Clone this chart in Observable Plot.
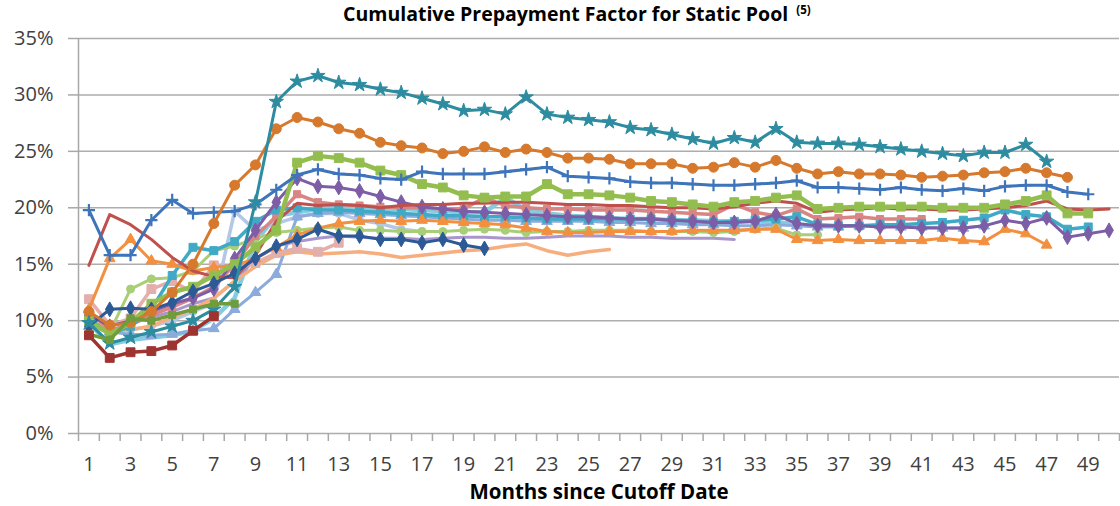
<!DOCTYPE html>
<html>
<head>
<meta charset="utf-8">
<script src="https://cdn.jsdelivr.net/npm/d3@7"></script>
<script src="https://cdn.jsdelivr.net/npm/@observablehq/plot@0.6"></script>
<style>
  html, body { margin: 0; padding: 0; background: #fff; }
  #wrap { position: relative; width: 1120px; height: 506px; overflow: hidden; font-family: "Open Sans", Lato, sans-serif; }
  #title { position: absolute; left: 343px; top: 4px; font-weight: bold; font-size: 19.5px; line-height: 1; color: #000; white-space: nowrap; }
  #title sup { font-size: 11.5px; vertical-align: 7px; margin-left: 3px; font-weight: bold; }
  #xtitle { position: absolute; left: 0; width: 1198px; top: 481px; text-align: center; font-weight: bold; font-size: 20.5px; line-height: 1; color: #000; }
  #chart { position: absolute; left: 0; top: 0; }
</style>
</head>
<body>
<div id="wrap">
  <div id="chart"></div>
  <div id="title">Cumulative Prepayment Factor for Static Pool <sup>(5)</sup></div>
  <div id="xtitle">Months since Cutoff Date</div>
</div>
<script>
// ---- data (percent), each pool starts at month 1 ----
const yTicks = [0, 5, 10, 15, 20, 25, 30, 35];
const xLabelTicks = [1,3,5,7,9,11,13,15,17,19,21,23,25,27,29,31,33,35,37,39,41,43,45,47,49];

const teal = [9.8, 8.0, 8.5, 9.0, 9.5, 10.0, 11.0, 13.0, 20.5, 29.4,
  31.2, 31.7, 31.1, 30.9, 30.5, 30.2, 29.7, 29.2, 28.6, 28.7,
  28.3, 29.8, 28.3, 28.0, 27.8, 27.6, 27.1, 26.9, 26.5, 26.1,
  25.7, 26.2, 25.8, 27.0, 25.8, 25.7, 25.7, 25.6, 25.4, 25.2,
  25.0, 24.8, 24.6, 24.9, 24.9, 25.6, 24.1];
const darkOrange = [10.8, 9.6, 9.8, 10.8, 12.5, 15.0, 18.6, 22.0, 23.8, 27.0,
  28.0, 27.6, 27.0, 26.6, 25.8, 25.5, 25.3, 24.8, 25.0, 25.4,
  24.9, 25.2, 24.9, 24.4, 24.4, 24.3, 23.9, 23.9, 23.9, 23.5,
  23.6, 24.0, 23.6, 24.2, 23.5, 23.0, 23.2, 23.0, 23.0, 22.9,
  22.7, 22.8, 22.9, 23.1, 23.2, 23.5, 23.1, 22.7];
const blue = [19.8, 15.8, 15.8, 18.9, 20.7, 19.5, 19.6, 19.7, 20.3, 21.6,
  22.9, 23.4, 23.0, 22.9, 22.6, 22.5, 23.2, 23.0, 23.0, 23.0,
  23.2, 23.4, 23.6, 22.8, 22.7, 22.6, 22.3, 22.2, 22.2, 22.1,
  22.0, 22.0, 22.1, 22.2, 22.4, 21.8, 21.8, 21.7, 21.6, 21.8,
  21.6, 21.5, 21.7, 21.5, 21.9, 22.0, 22.0, 21.4, 21.2];
const green = [10.0, 8.8, 9.8, 11.5, 12.5, 13.0, 14.0, 15.0, 16.5, 18.0,
  24.0, 24.6, 24.4, 24.0, 23.3, 22.9, 22.1, 21.8, 21.1, 20.9,
  21.0, 21.0, 22.1, 21.2, 21.2, 21.1, 20.9, 20.6, 20.5, 20.3,
  20.1, 20.5, 20.6, 20.9, 21.1, 19.9, 20.0, 20.1, 20.1, 20.1,
  20.1, 20.0, 20.0, 20.0, 20.3, 20.6, 21.1, 19.5, 19.5];
const red = [14.9, 19.4, 18.5, 17.2, 15.6, 14.4, 13.9, 13.8, 15.8, 18.8,
  20.4, 20.2, 20.3, 20.2, 20.0, 20.2, 20.3, 20.3, 20.4, 20.4,
  20.5, 20.5, 20.4, 20.3, 20.3, 20.2, 20.2, 20.1, 20.0, 20.0,
  19.9, 20.1, 20.4, 20.6, 20.4, 19.6, 19.8, 19.9, 20.0, 19.9,
  19.9, 19.8, 19.8, 19.9, 20.0, 20.2, 20.6, 19.9, 19.8, 19.9];
const purple = [10.5, 9.5, 10.0, 10.8, 11.5, 12.0, 12.8, 15.5, 18.0, 20.5,
  22.6, 21.9, 21.8, 21.5, 21.0, 20.5, 20.1, 19.9, 19.7, 19.6,
  19.5, 19.4, 19.3, 19.2, 19.2, 19.1, 19.0, 19.0, 18.9, 18.8,
  18.7, 18.7, 18.8, 19.4, 18.6, 18.4, 18.4, 18.4, 18.3, 18.3,
  18.2, 18.2, 18.2, 18.4, 18.9, 18.6, 19.1, 17.4, 17.7, 18.0];
const aqua = [10.2, 8.8, 9.5, 11.0, 14.0, 16.5, 16.2, 17.0, 18.8, 19.8,
  20.0, 19.8, 19.8, 19.7, 19.6, 19.5, 19.4, 19.3, 19.3, 19.2,
  19.2, 19.1, 19.0, 19.0, 19.0, 19.0, 19.0, 19.0, 18.9, 18.8,
  18.7, 18.8, 18.9, 19.0, 19.2, 18.5, 18.4, 18.4, 18.5, 18.5,
  18.6, 18.7, 18.9, 19.1, 19.8, 19.4, 19.2, 18.1, 18.3];
const lightOrange = [11.0, 15.5, 17.2, 15.3, 15.0, 14.4, 14.7, 14.9, 15.5, 16.5,
  17.6, 18.2, 18.6, 18.8, 18.9, 18.8, 18.9, 18.8, 18.7, 18.6,
  18.5, 18.2, 17.9, 17.8, 17.8, 17.9, 17.9, 17.9, 17.9, 18.0,
  18.0, 18.0, 18.1, 18.1, 17.2, 17.1, 17.2, 17.1, 17.1, 17.1,
  17.1, 17.3, 17.1, 17.0, 18.1, 17.7, 16.7];
const steelBlue = [9.5, 9.0, 8.8, 8.7, 8.8, 9.1, 9.3, 11.0, 12.5, 14.1,
  19.2, 19.5, 19.6, 19.5, 19.4, 19.3, 19.2, 19.1, 19.0, 18.9,
  18.9, 18.8, 18.8, 18.8, 18.8, 18.7, 18.7, 18.6, 18.6, 18.5,
  18.5, 18.4, 18.4, 18.5, 18.4, 18.3, 18.3, 18.4, 18.4, 18.3,
  18.3, 18.2, 18.2, 18.4];
const rose = [10.8, 9.2, 9.6, 10.5, 11.2, 12.0, 13.0, 15.0, 17.5, 19.2,
  21.2, 20.5, 20.3, 20.2, 20.1, 20.0, 20.0, 19.9, 19.9, 20.9,
  20.2, 20.0, 19.9, 19.9, 19.8, 19.8, 19.8, 19.7, 19.6, 19.5,
  19.4, 20.3, 19.6, 19.3, 19.9, 19.0, 19.1, 19.2, 19.0, 19.0,
  19.0];
const lightGreen = [9.5, 9.0, 12.8, 13.7, 13.8, 14.4, 16.2, 16.6, 17.3, 17.8,
  18.0, 18.2, 18.3, 18.0, 18.0, 17.9, 17.9, 17.9, 18.0, 18.1,
  18.0, 17.8, 17.9, 17.9, 18.0, 18.0, 18.0, 17.9, 17.9, 17.9,
  17.8, 17.9, 18.1, 18.2, 17.6, 17.6];
const lightAqua = [9.8, 7.9, 8.3, 8.5, 8.7, 9.1, 10.2, 12.0, 17.0, 19.3,
  19.6, 19.9, 20.0, 20.0, 19.9, 19.9, 19.8, 19.7, 19.6, 19.6,
  20.9, 19.8, 19.5, 19.3, 19.2, 19.1, 19.0, 19.0, 18.9, 18.9,
  18.8, 18.8, 18.8, 18.7, 18.6];
const lilac = [10.5, 9.8, 10.0, 10.3, 10.8, 11.5, 12.0, 13.5, 15.5, 16.6,
  17.0, 17.3, 17.5, 17.4, 17.3, 17.3, 17.2, 17.3, 17.4, 17.4,
  17.3, 17.3, 17.4, 17.5, 17.5, 17.5, 17.4, 17.4, 17.3, 17.3,
  17.3, 17.2];
const salmon = [10.0, 9.3, 9.2, 9.5, 10.3, 11.0, 12.0, 13.5, 14.8, 15.8,
  16.1, 15.9, 16.0, 16.1, 15.9, 15.6, 15.8, 16.0, 16.2, 16.3,
  16.6, 16.8, 16.2, 15.8, 16.1, 16.3];
const navy = [9.5, 11.0, 11.1, 11.0, 11.6, 12.6, 13.3, 14.2, 15.5, 16.6,
  17.2, 18.1, 17.5, 17.5, 17.2, 17.2, 16.9, 17.2, 16.7, 16.4];
const paleBlue = [10.0, 9.0, 9.2, 9.5, 10.0, 10.8, 11.5, 19.7, 18.0, 18.6,
  19.2, 19.5, 19.5, 18.9, 18.6, 18.1, 17.9];
const lightPink = [11.9, 9.6, 10.2, 12.8, 13.5, 12.5, 14.9, 14.6, 15.1, 16.0,
  16.4, 16.1, 16.9];
const olive = [8.8, 8.3, 10.2, 10.0, 10.5, 11.0, 11.5, 11.5];
const maroon = [8.7, 6.7, 7.2, 7.3, 7.8, 9.1, 10.4];

const pools = { teal, darkOrange, blue, green, red, purple, aqua, lightOrange, steelBlue,
  rose, lightGreen, lightAqua, lilac, salmon, navy, paleBlue, lightPink, olive, maroon };

// ---- styles (kept apart from data) ----
const styles = {
  lightAqua:   { color: "#86CCE0", width: 4.5, symbol: null,       r: 0 },
  paleBlue:    { color: "#B3C7E6", width: 3.5, symbol: "circle",   r: 4 },
  steelBlue:   { color: "#8AABDB", width: 3,   symbol: "triangle", r: 4 },
  lilac:       { color: "#A996CB", width: 3,   symbol: null,       r: 0 },
  salmon:      { color: "#F7AE7E", width: 3.5, symbol: null,       r: 0 },
  lightGreen:  { color: "#A9CE78", width: 3,   symbol: "circle",   r: 4 },
  lightPink:   { color: "#E3AFAD", width: 3.5, symbol: "square",   r: 5 },
  rose:        { color: "#D98583", width: 3.5, symbol: "square",   r: 4 },
  aqua:        { color: "#40AAC6", width: 3.5, symbol: "square",   r: 4.5 },
  lightOrange: { color: "#F39040", width: 3,   symbol: "triangle", r: 4 },
  purple:      { color: "#7D5DA6", width: 3,   symbol: "diamond",  r: 4.5 },
  red:         { color: "#C0504D", width: 3,   symbol: null,       r: 0 },
  green:       { color: "#93BE4F", width: 4.5, symbol: "square",   r: 5 },
  navy:        { color: "#2C5A96", width: 3,   symbol: "diamond",  r: 4.5 },
  blue:        { color: "#3E74BA", width: 3,   symbol: "plus",     r: 4 },
  darkOrange:  { color: "#D6792D", width: 3,   symbol: "circle",   r: 5 },
  teal:        { color: "#2E8CA0", width: 3,   symbol: "star",     r: 4.5 },
  olive:       { color: "#6F9C3C", width: 3.5, symbol: "square",   r: 4 },
  maroon:      { color: "#9E3431", width: 3.5, symbol: "square",   r: 5 }
};
const drawOrder = ["lightAqua","paleBlue","steelBlue","lilac","salmon","lightGreen","lightPink","rose",
  "aqua","lightOrange","purple","red","green","navy","blue","darkOrange","teal","olive","maroon"];

const rowsFor = name => pools[name].map((v, i) => ({ pool: name, month: i + 1, value: v }));

const seriesMarks = drawOrder.flatMap(name => {
  const s = styles[name];
  const rows = rowsFor(name);
  const marks = [Plot.line(rows, { x: "month", y: "value", stroke: s.color, strokeWidth: s.width, strokeLinejoin: "round", strokeLinecap: "round" })];
  if (s.symbol) {
    if (s.symbol === "plus" || s.symbol === "times") {
      marks.push(Plot.dot(rows, { x: "month", y: "value", symbol: s.symbol, r: s.r, stroke: s.color, strokeWidth: 2.2 }));
    } else {
      marks.push(Plot.dot(rows, { x: "month", y: "value", symbol: s.symbol, r: s.r, fill: s.color, stroke: s.color, strokeWidth: 1 }));
    }
  }
  return marks;
});

const xBoundaries = d3.range(0, 51).map(k => k + 0.5);

const chart = Plot.plot({
  width: 1120,
  height: 506,
  marginLeft: 78,
  marginRight: 1,
  marginTop: 38,
  marginBottom: 73,
  style: { fontFamily: "'Open Sans', Lato, sans-serif", background: "#fff", overflow: "visible" },
  x: { type: "linear", domain: [0.5, 50.5], label: null },
  y: { domain: [0, 35], label: null },
  marks: [
    Plot.ruleY(yTicks, { stroke: "#ADADAD", strokeWidth: 1.5 }),
    Plot.ruleX([0.5], { stroke: "#A8A8A8", strokeWidth: 1.5 }),
    Plot.axisY({ ticks: yTicks, tickSize: 10, tickFormat: () => "", color: "#A8A8A8", strokeWidth: 1.5, label: null }),
    Plot.axisY({ ticks: yTicks, tickSize: 0, tickPadding: 25, tickFormat: d => d + "%", fontSize: 20, color: "#404040", label: null }),
    Plot.axisX({ ticks: xBoundaries, tickSize: 8, tickFormat: () => "", color: "#A8A8A8", strokeWidth: 1.5, label: null }),
    Plot.axisX({ ticks: xLabelTicks, tickSize: 0, tickPadding: 23, fontSize: 20, color: "#404040", label: null }),
    ...seriesMarks
  ]
});
document.getElementById("chart").appendChild(chart);
</script>
</body>
</html>
